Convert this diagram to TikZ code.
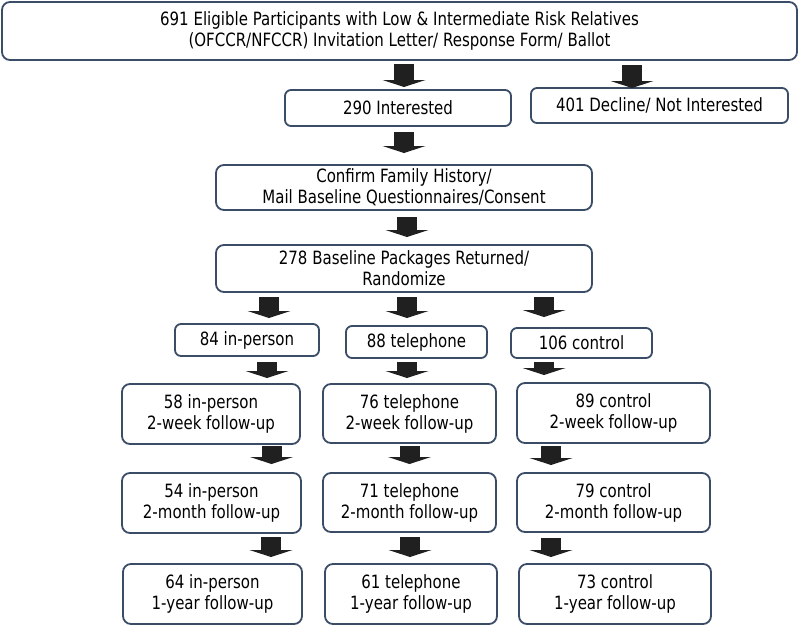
\documentclass[tikz,border=0pt]{standalone}
\usepackage{fontspec}
\setmainfont{DejaVu Sans}[FakeStretch=0.82]
\usetikzlibrary{calc,arrows.meta}
\definecolor{boxcol}{RGB}{58,76,102}
\definecolor{arrcol}{RGB}{32,32,32}
\newcommand\flowarrow[5]{\draw[barrow] ($(#1.south -| #2.north)+(#3,#4)$) -- ($(#2.north)+(#3,-#5)$);}
\begin{document}
\begin{tikzpicture}[x=1pt,y=-1pt,
  flowbox/.style={draw=boxcol, line width=1.8pt, rounded corners=8pt, fill=white,
    align=center, inner sep=0pt, outer sep=0pt,
    font=\fontsize{18.3}{21}\selectfont},
  smallbox/.style={flowbox, rounded corners=6pt},
  barrow/.style={draw=arrcol, line width=20pt,
    -{Triangle[width=43pt,length=7pt,line width=0pt]}}]
\useasboundingbox[fill=white] (0,0) rectangle (800,625);
\node[flowbox, minimum width=795pt, minimum height=58pt] (top) at (399.5,31)
  {691 Eligible Participants with Low \& Intermediate Risk Relatives\\(OFCCR/NFCCR) Invitation Letter/ Response Form/ Ballot};
\node[smallbox, minimum width=226pt, minimum height=36pt] (int) at (398,108) {290 Interested};
\node[smallbox, minimum width=257pt, minimum height=35pt] (dec) at (659.5,105.5) {401 Decline/ Not Interested};
\node[flowbox, minimum width=376pt, minimum height=45pt] (conf) at (404,187.5)
  {Confirm Family History/\\Mail Baseline Questionnaires/Consent};
\node[flowbox, minimum width=376pt, minimum height=47pt] (base) at (404,268.5)
  {278 Baseline Packages Returned/\\Randomize};
\node[smallbox, minimum width=144pt, minimum height=32pt] (b84) at (247,340) {84 in-person};
\node[smallbox, minimum width=141pt, minimum height=32pt] (b88) at (416.5,342) {88 telephone};
\node[smallbox, minimum width=141pt, minimum height=30pt] (b106) at (581.5,343) {106 control};
\node[flowbox, minimum width=178pt, minimum height=60pt] (r1a) at (211,414) {58 in-person\\2-week follow-up};
\node[flowbox, minimum width=173pt, minimum height=59pt] (r1b) at (409.5,413.5) {76 telephone\\2-week follow-up};
\node[flowbox, minimum width=193pt, minimum height=60pt] (r1c) at (613.5,413) {89 control\\2-week follow-up};
\node[flowbox, minimum width=179pt, minimum height=60pt] (r2a) at (211.5,503) {54 in-person\\2-month follow-up};
\node[flowbox, minimum width=173pt, minimum height=59pt] (r2b) at (409.5,502.5) {71 telephone\\2-month follow-up};
\node[flowbox, minimum width=193pt, minimum height=59pt] (r2c) at (613.5,502.5) {79 control\\2-month follow-up};
\node[flowbox, minimum width=179pt, minimum height=60pt] (r3a) at (212.5,594) {64 in-person\\1-year follow-up};
\node[flowbox, minimum width=172pt, minimum height=60pt] (r3b) at (411,594) {61 telephone\\1-year follow-up};
\node[flowbox, minimum width=192pt, minimum height=60pt] (r3c) at (615,594) {73 control\\1-year follow-up};
\flowarrow{top}{int}{6}{4}{3}
\flowarrow{top}{dec}{-27.5}{5}{0}
\flowarrow{int}{conf}{0}{6}{12}
\flowarrow{conf}{base}{3}{7}{8}
\flowarrow{base}{b84}{22}{5}{6}
\flowarrow{base}{b88}{-9.5}{5}{8}
\flowarrow{base}{b106}{-37.5}{5}{11}
\flowarrow{b84}{r1a}{56}{6}{6}
\flowarrow{b88}{r1b}{-2.5}{4}{6}
\flowarrow{b106}{r1c}{-69.5}{4}{8}
\flowarrow{r1a}{r2a}{60}{2}{9}
\flowarrow{r1b}{r2b}{0}{3}{9}
\flowarrow{r1c}{r2c}{-62.5}{3}{8}
\flowarrow{r2a}{r3a}{58.5}{4}{7}
\flowarrow{r2b}{r3b}{-1}{5}{7}
\flowarrow{r2c}{r3c}{-64}{6}{7}
\end{tikzpicture}
\end{document}
